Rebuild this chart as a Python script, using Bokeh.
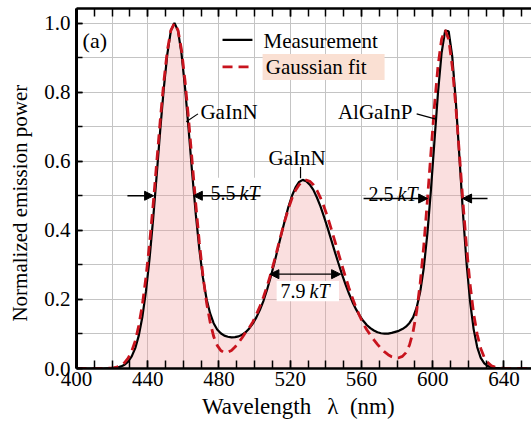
from bokeh.plotting import figure
from bokeh.models import (FixedTicker, LinearAxis, Range1d, Label, Arrow, NormalHead,
                          BoxAnnotation, PrintfTickFormatter, ColumnDataSource)
from bokeh.embed import file_html
from bokeh.resources import INLINE

# ---------------- data ----------------
wavelength = [400, 405, 410, 415, 419,
              421, 423, 425, 427, 429, 431, 433, 435, 437, 439,
              441, 443, 445, 447, 449, 451, 453, 455, 457, 459,
              461, 463, 465, 467, 469, 471, 473, 475, 477, 479,
              481, 483, 485, 487, 489, 491, 493, 495, 497, 499,
              501, 503, 505, 507, 509, 511, 513, 515, 517, 519,
              521, 523, 525, 527, 529, 531, 533, 535, 537, 539,
              541, 543, 545, 547, 549, 551, 553, 555, 557, 559,
              561, 563, 565, 567, 569, 571, 573, 575, 577, 579,
              581, 583, 585, 587, 589, 591, 593, 595, 597, 599,
              601, 603, 605, 607, 609, 611, 613, 615, 617, 619,
              621, 623, 625, 627, 629, 631, 633, 635, 637, 639,
              641, 645, 650, 655, 660]

measurement = [0.000, 0.000, 0.000, 0.000, 0.001,
               0.002, 0.003, 0.006, 0.011, 0.020, 0.035, 0.059, 0.096, 0.150, 0.223,
               0.317, 0.431, 0.558, 0.689, 0.810, 0.910, 0.978, 1.000, 0.978, 0.910,
               0.810, 0.690, 0.563, 0.446, 0.344, 0.263, 0.202, 0.160, 0.131, 0.113,
               0.102, 0.095, 0.092, 0.090, 0.091, 0.093, 0.098, 0.105, 0.116, 0.130,
               0.148, 0.170, 0.196, 0.228, 0.264, 0.303, 0.346, 0.388, 0.429, 0.468,
               0.500, 0.524, 0.540, 0.546, 0.542, 0.532, 0.517, 0.495, 0.469, 0.439,
               0.407, 0.373, 0.339, 0.306, 0.274, 0.244, 0.217, 0.192, 0.171, 0.153,
               0.138, 0.126, 0.117, 0.110, 0.105, 0.102, 0.101, 0.101, 0.103, 0.106,
               0.109, 0.114, 0.121, 0.132, 0.148, 0.176, 0.222, 0.291, 0.389, 0.515,
               0.658, 0.799, 0.913, 0.978, 0.976, 0.903, 0.774, 0.614, 0.451, 0.307,
               0.194, 0.114, 0.062, 0.031, 0.015, 0.007, 0.003, 0.001, 0.001, 0.000,
               0.000, 0.000, 0.000, 0.000, 0.000]

gaussian_fit = [0.000, 0.000, 0.000, 0.000, 0.001,
                0.002, 0.005, 0.009, 0.017, 0.030, 0.050, 0.080, 0.125, 0.185, 0.264,
                0.360, 0.472, 0.594, 0.717, 0.829, 0.920, 0.979, 1.000, 0.979, 0.921,
                0.830, 0.718, 0.596, 0.475, 0.364, 0.269, 0.192, 0.135, 0.093, 0.067,
                0.052, 0.046, 0.047, 0.052, 0.062, 0.075, 0.089, 0.105, 0.118, 0.135,
                0.156, 0.180, 0.207, 0.238, 0.272, 0.310, 0.350, 0.390, 0.428, 0.463,
                0.493, 0.516, 0.532, 0.542, 0.545, 0.542, 0.532, 0.516, 0.494, 0.468,
                0.438, 0.405, 0.370, 0.335, 0.300, 0.266, 0.233, 0.203, 0.176, 0.152,
                0.130, 0.112, 0.097, 0.083, 0.070, 0.058, 0.048, 0.040, 0.034, 0.031,
                0.031, 0.035, 0.046, 0.068, 0.106, 0.165, 0.247, 0.355, 0.484, 0.623,
                0.760, 0.876, 0.953, 0.980, 0.953, 0.875, 0.759, 0.622, 0.482, 0.353,
                0.244, 0.159, 0.099, 0.058, 0.032, 0.017, 0.008, 0.004, 0.002, 0.001,
                0.000, 0.000, 0.000, 0.000, 0.000]

x_major_ticks = [400, 440, 480, 520, 560, 600, 640]
x_minor_ticks = [400, 410, 420, 430, 440, 450, 460, 470, 480, 490, 500, 510, 520,
                 530, 540, 550, 560, 570, 580, 590, 600, 610, 620, 630, 640, 650]
x_grid_ticks = [400, 420, 440, 460, 480, 500, 520, 540, 560, 580, 600, 620, 640]
y_major_ticks = [0.0, 0.2, 0.4, 0.6, 0.8, 1.0]
y_minor_ticks = [0.0, 0.1, 0.2, 0.3, 0.4, 0.5, 0.6, 0.7, 0.8, 0.9, 1.0]

FONT = "Liberation Serif"
RED = "#c8141e"

src = ColumnDataSource(dict(wl=wavelength, meas=measurement, fit=gaussian_fit))

p = figure(width=531, height=428, output_backend="svg", toolbar_location=None,
           x_range=Range1d(400, 655.5), y_range=Range1d(0, 1.042),
           min_border_left=76, min_border_right=0, min_border_top=8,
           min_border_bottom=60)
p.outline_line_color = None
p.background_fill_color = "white"
p.border_fill_color = "white"

# grid
p.xgrid.ticker = FixedTicker(ticks=x_grid_ticks)
p.ygrid.ticker = FixedTicker(ticks=y_minor_ticks)
for g in (p.xgrid[0], p.ygrid[0]):
    g.grid_line_color = "#c4c4c4"
    g.grid_line_width = 1

# curves
p.varea(x="wl", y1=0, y2="meas", source=src, fill_color="#f09a9a", fill_alpha=0.32)
p.line("wl", "meas", source=src, line_color="black", line_width=2.2)
p.line("wl", "fit", source=src, line_color=RED, line_width=2.8, line_dash="10 6")


def style_axis(ax, tick_len):
    ax.axis_line_width = 2.5
    ax.axis_line_color = "black"
    ax.major_tick_in = tick_len
    ax.major_tick_out = 0
    ax.minor_tick_in = tick_len
    ax.minor_tick_out = 0
    ax.major_tick_line_width = 1.5
    ax.minor_tick_line_width = 1.5
    ax.major_label_text_font = FONT
    ax.major_label_text_font_size = "21px"
    ax.major_label_text_color = "black"
    ax.axis_label_text_font = FONT
    ax.axis_label_text_font_style = "normal"
    ax.axis_label_text_color = "black"


xa = p.xaxis[0]
xa.ticker = FixedTicker(ticks=x_major_ticks, minor_ticks=x_minor_ticks)
xa.formatter = PrintfTickFormatter(format="%d")
style_axis(xa, 8)
xa.major_label_standoff = 3
xa.axis_label = "Wavelength\u2002\u2009\u03bb\u2002(nm)\u2002"
xa.axis_label_text_font_size = "23px"
xa.axis_label_standoff = 5

ya = p.yaxis[0]
ya.ticker = FixedTicker(ticks=y_major_ticks, minor_ticks=y_minor_ticks)
ya.formatter = PrintfTickFormatter(format="%.1f")
style_axis(ya, 6)
ya.axis_line_width = 3
ya.major_label_standoff = 6
ya.axis_label = "Normalized emission power\u2003\u2009\u2009"
ya.axis_label_text_font_size = "21px"
ya.axis_label_standoff = 9

top = LinearAxis(ticker=FixedTicker(ticks=x_major_ticks, minor_ticks=x_minor_ticks))
style_axis(top, 8)
top.major_label_text_font_size = "1px"
top.major_label_text_color = None
top.major_label_standoff = 0
p.add_layout(top, "above")

# white label boxes and legend box
p.add_layout(BoxAnnotation(left=504.5, right=573.0, bottom=0.835, top=0.910,
                           fill_color="#fae0d3", fill_alpha=1, line_color=None))
p.add_layout(BoxAnnotation(left=475.0, right=506.5, bottom=0.510, top=0.552,
                           fill_color="white", fill_alpha=1, line_color=None))
p.add_layout(BoxAnnotation(left=562.5, right=595.5, bottom=0.500, top=0.545,
                           fill_color="white", fill_alpha=1, line_color=None))
p.add_layout(BoxAnnotation(left=512.4, right=547.4, bottom=0.195, top=0.253,
                           fill_color="white", fill_alpha=1, line_color=None))


def label(x, y, text, size="21px", style="normal", align="left", baseline="middle"):
    p.add_layout(Label(x=x, y=y, text=text, text_font=FONT, text_font_size=size,
                       text_font_style=style, text_align=align, text_baseline=baseline,
                       text_color="black"))


def seg(x0, y0, x1, y1, color="black", width=1.2, dash="solid"):
    p.add_layout(Arrow(x_start=x0, y_start=y0, x_end=x1, y_end=y1, end=None,
                       line_color=color, line_width=width, line_dash=dash))


def arrow(x0, y0, x1, y1, both=False):
    head = NormalHead(size=9, fill_color="black", line_color="black", line_width=1)
    start = NormalHead(size=9, fill_color="black", line_color="black", line_width=1) if both else None
    p.add_layout(Arrow(x_start=x0, y_start=y0, x_end=x1, y_end=y1, end=head, start=start,
                       line_color="black", line_width=1.3))


# legend
seg(482.0, 0.951, 498.8, 0.951, "black", 2.2)
seg(482.0, 0.873, 498.8, 0.873, RED, 2.8, "10 6")
label(505.0, 0.949, "Measurement")
label(506.3, 0.873, "Gaussian fit")

# panel tag
label(403.4, 0.948, "(a)", size="22px")

# peak names with leaders
label(469.6, 0.742, "GaInN")
seg(461.6, 0.714, 468.2, 0.737)
label(507.8, 0.609, "GaInN")
seg(525.8, 0.583, 525.8, 0.551)
label(588.7, 0.742, "AlGaInP", align="right")
seg(591.0, 0.737, 601.8, 0.722)

# FWHM markers
arrow(428.6, 0.500, 443.3, 0.500)
arrow(503.3, 0.500, 465.6, 0.500)
label(475.3, 0.509, "5.5", size="20px", baseline="alphabetic")
label(491.6, 0.509, "kT", size="20px", style="italic", baseline="alphabetic")

arrow(561.2, 0.492, 597.2, 0.492)
arrow(630.8, 0.492, 616.8, 0.492)
label(564.0, 0.505, "2.5", size="20px", baseline="alphabetic")
label(580.3, 0.505, "kT", size="20px", style="italic", baseline="alphabetic")

arrow(508.6, 0.273, 548.3, 0.273, both=True)
label(514.6, 0.224, "7.9", size="20px")
label(530.9, 0.224, "kT", size="20px", style="italic")

open("out.html", "w").write(file_html(p, INLINE))
